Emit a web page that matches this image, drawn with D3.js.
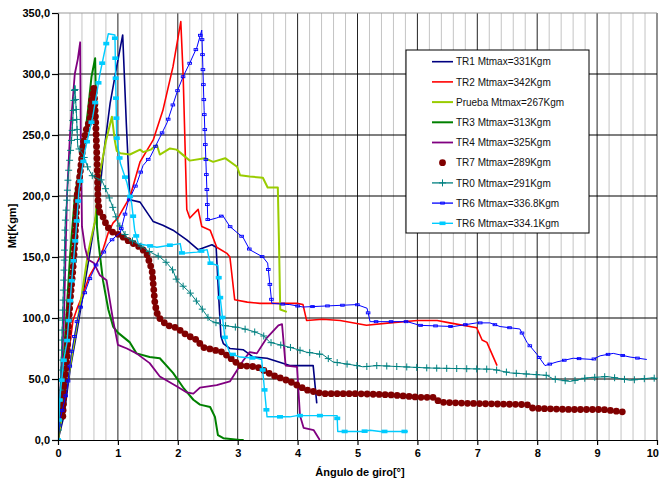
<!DOCTYPE html>
<html>
<head>
<meta charset="utf-8">
<script src="https://cdn.jsdelivr.net/npm/d3@7/dist/d3.min.js"></script>
<style>
  body { margin: 0; background: #fff; }
  text { font-family: "Liberation Sans", Arial, sans-serif; }
</style>
</head>
<body>
<svg id="chart" width="660" height="482"></svg>
<script>
// values: [angle, Mt]
const tr1 = [[0,0],[0.1,20],[0.2,57],[0.32,90],[0.42,120],[0.53,153],[0.62,180],[0.7,205],[0.75,230],[0.87,276],[0.98,306],[1.08,332],[1.14,260],[1.2,197],[1.37,195],[1.59,179],[1.75,176],[1.92,172],[2.15,164],[2.34,156],[2.57,160],[2.64,158],[2.68,120],[2.72,85],[2.76,79],[2.87,75],[3.09,74],[3.26,68],[3.49,67],[3.87,61],[4.26,61],[4.32,30]];
const tr2 = [[0,0],[0.05,20],[0.1,40],[0.15,60],[0.25,98],[0.32,108],[0.42,120],[0.53,135],[0.65,145],[0.75,156],[0.84,170],[0.92,178],[1.0,182],[1.2,199],[1.37,228],[1.59,246],[1.75,270],[1.92,306],[2.05,343],[2.09,298],[2.12,243],[2.15,189],[2.2,182],[2.34,189],[2.4,175],[2.54,172],[2.65,158],[2.82,153],[2.87,150],[2.95,115],[3.16,113],[3.37,112],[3.71,112],[3.99,112],[4.09,111],[4.15,98],[4.42,99],[4.71,98],[5.15,94],[5.54,96],[6.0,98],[6.33,98],[6.54,96],[6.99,92],[7.08,82],[7.16,80],[7.33,61]];
const prueba = [[0,0],[0.1,30],[0.2,60],[0.3,90],[0.4,120],[0.5,153],[0.62,180],[0.7,219],[0.8,245],[0.9,265],[0.95,245],[0.98,237],[1.04,235],[1.2,234],[1.37,238],[1.42,236],[1.55,238],[1.65,242],[1.7,234],[1.87,239],[1.98,238],[2.2,229],[2.45,231],[2.59,228],[2.79,231],[2.99,224],[3.04,217],[3.2,216],[3.42,215],[3.5,207],[3.67,207],[3.69,160],[3.71,107],[3.82,105]];
const tr3 = [[0,0],[0.05,30],[0.1,70],[0.15,110],[0.2,150],[0.28,199],[0.35,220],[0.42,237],[0.5,270],[0.56,298],[0.62,313],[0.64,260],[0.65,175],[0.67,164],[0.75,131],[0.84,107],[0.92,93],[1.0,88],[1.2,80],[1.31,71],[1.53,68],[1.7,67],[1.92,55],[2.09,43],[2.26,33],[2.37,29],[2.54,27],[2.62,19],[2.67,4],[2.76,1.5],[3.04,0],[3.1,0]];
const tr4 = [[0,0],[0.05,50],[0.1,100],[0.15,200],[0.2,250],[0.28,300],[0.33,312],[0.37,326],[0.38,250],[0.4,175],[0.45,158],[0.5,148],[0.6,145],[0.7,135],[0.81,131],[0.92,98],[1.0,78],[1.15,75],[1.31,71],[1.53,63],[1.7,52],[1.98,44],[2.15,39],[2.26,38],[2.37,43],[2.65,45],[2.87,48],[3.09,65],[3.2,72],[3.32,71],[3.49,84],[3.68,94],[3.74,95],[3.8,61],[3.99,60],[4.04,20],[4.1,10],[4.27,8],[4.37,0]];
const tr7 = [[0,19],[0.05,18],[0.08,19],[0.1,40],[0.15,67],[0.17,88],[0.2,113],[0.25,140],[0.28,161],[0.32,201],[0.37,219],[0.42,243],[0.48,256],[0.53,262],[0.56,278],[0.6,289],[0.63,260],[0.65,231],[0.67,194],[0.7,186],[0.75,183],[0.82,175],[0.92,170],[1.04,168],[1.15,164],[1.26,161],[1.37,158],[1.48,153],[1.57,139],[1.62,111],[1.67,101],[1.82,94],[1.98,92],[2.15,86],[2.32,82],[2.42,76],[2.75,72],[3.04,61],[3.32,60],[3.59,53],[3.87,48],[4.15,41],[4.42,38],[4.99,38],[5.54,37],[6.04,35],[6.26,35],[6.38,31],[6.88,30],[7.83,29],[7.93,26],[8.55,25],[9.1,25],[9.43,23]];
const tr0 = [[0,0],[0.03,30],[0.07,90],[0.1,140],[0.12,178],[0.15,198],[0.17,217],[0.23,248],[0.28,291],[0.31,265],[0.33,240],[0.42,234],[0.5,223],[0.58,216],[0.73,213],[0.83,202],[0.92,190],[1.0,178],[1.15,166],[1.32,161],[1.54,154],[1.7,150],[1.82,145],[1.92,139],[1.98,131],[2.2,121],[2.37,110],[2.54,98],[2.75,94],[3.04,92],[3.26,89],[3.42,86],[3.54,80],[3.87,76],[4.15,72],[4.42,70],[4.59,64],[4.99,61],[5.09,60],[5.33,61],[5.76,60],[6.21,59],[7.26,58],[7.55,55],[8.16,53],[8.27,50],[8.55,48],[8.83,51],[9.17,52],[9.55,49],[9.93,51],[10,50]];
const tr6a = [[0,0],[0.03,16],[0.1,30],[0.15,41],[0.22,70],[0.32,98],[0.42,117],[0.53,132],[0.65,145],[0.75,153],[0.84,161],[0.92,165],[1.04,170],[1.17,195],[1.32,211],[1.42,225],[1.54,232],[1.7,248],[1.82,260],[2.0,287],[2.09,298],[2.2,309],[2.32,322],[2.4,336],[2.44,270],[2.49,199],[2.5,180],[2.65,182],[2.75,184],[2.87,175],[2.99,170],[3.09,166],[3.2,156],[3.42,150],[3.5,145],[3.57,112],[3.87,111],[4.09,109],[4.99,111],[5.16,108],[5.21,97],[5.54,97],[5.83,97],[6.04,94],[6.6,93],[6.99,96],[7.21,96],[7.38,93],[7.71,91],[7.83,80],[8.0,70],[8.13,61],[8.33,64],[8.6,67],[8.93,66],[9.05,69],[9.27,71],[9.55,68],[9.83,66]];
const tr6b = [[0,0],[0.03,34],[0.1,67],[0.15,80],[0.23,131],[0.3,170],[0.35,205],[0.45,237],[0.58,265],[0.65,285],[0.7,300],[0.84,333],[0.95,332],[0.98,248],[1.04,227],[1.15,211],[1.23,194],[1.28,172],[1.34,161],[1.65,158],[2.04,161],[2.07,153],[2.32,154],[2.49,156],[2.54,145],[2.67,143],[2.7,120],[2.79,82],[2.87,71],[3.04,68],[3.32,67],[3.4,66],[3.49,19],[3.87,19],[3.99,20],[4.66,20],[4.67,7],[5.09,7],[5.21,8],[5.38,7],[5.84,7]];

const seriesNames = ["TR1  Mtmax=331Kgm", "TR2  Mtmax=342Kgm", "Prueba Mtmax=267Kgm", "TR3  Mtmax=313Kgm",
  "TR4  Mtmax=325Kgm", "TR7  Mtmax=289Kgm", "TR0  Mtmax=291Kgm", "TR6  Mtmax=336.8Kgm", "TR6  Mtmax=334.1Kgm"];
const xTicks = [0,1,2,3,4,5,6,7,8,9,10];
const yTicks = [0,50,100,150,200,250,300,350];

const series = [
  {name: seriesNames[0], data: tr1, color: "#000080", width: 1.6},
  {name: seriesNames[1], data: tr2, color: "#ff0000", width: 1.6},
  {name: seriesNames[2], data: prueba, color: "#99cc00", width: 2},
  {name: seriesNames[3], data: tr3, color: "#008000", width: 2},
  {name: seriesNames[4], data: tr4, color: "#800080", width: 1.8},
  {name: seriesNames[5], data: tr7, color: "#800000", width: 1, marker: "dot", step: 6},
  {name: seriesNames[6], data: tr0, color: "#008080", width: 1, marker: "plus", step: 10},
  {name: seriesNames[7], data: tr6a, color: "#0000ff", width: 1, marker: "dash", step: 15},
  {name: seriesNames[8], data: tr6b, color: "#00ccff", width: 1.4, marker: "square", step: 20}
];

const svg = d3.select("#chart");
const plotL = 58, plotR = 657, plotT = 13, plotB = 440;
const x = d3.scaleLinear().domain([0, 10]).range([plotL, plotR]);
const y = d3.scaleLinear().domain([0, 350]).range([plotB, plotT]);

// grid
const grid = svg.append("g");
grid.selectAll("line.minor").data(d3.range(1, 50).filter(i => i % 5)).join("line")
  .attr("x1", i => x(i / 5)).attr("x2", i => x(i / 5))
  .attr("y1", plotT).attr("y2", plotB)
  .attr("stroke", "#c4c4c4").attr("stroke-width", 1);
grid.selectAll("line.vmaj").data(xTicks.slice(1)).join("line")
  .attr("x1", d => x(d)).attr("x2", d => x(d))
  .attr("y1", plotT).attr("y2", plotB)
  .attr("stroke", "#222").attr("stroke-width", 1);
grid.selectAll("line.hmaj").data(yTicks.slice(1)).join("line")
  .attr("x1", plotL).attr("x2", plotR)
  .attr("y1", d => y(d)).attr("y2", d => y(d))
  .attr("stroke", d => d === 350 ? "#999" : "#000").attr("stroke-width", 1.2);

svg.append("clipPath").attr("id", "plotclip").append("rect")
  .attr("x", plotL).attr("y", plotT - 2).attr("width", plotR - plotL + 2).attr("height", plotB - plotT + 3);

const line = d3.line().x(d => x(d[0])).y(d => y(d[1]));
const plot = svg.append("g").attr("clip-path", "url(#plotclip)");

function drawMarker(g, kind, color, px, py) {
  if (kind === "dot") {
    g.append("circle").attr("cx", px).attr("cy", py).attr("r", 3.4).attr("fill", color);
  } else if (kind === "plus") {
    g.append("path").attr("d", `M${px-3.5},${py}H${px+3.5}M${px},${py-3.5}V${py+3.5}`)
      .attr("stroke", color).attr("stroke-width", 1);
  } else if (kind === "dash") {
    g.append("rect").attr("x", px - 1.8).attr("y", py - 1).attr("width", 3.6).attr("height", 2)
      .attr("fill", "none").attr("stroke", color).attr("stroke-width", 0.9);
  } else if (kind === "square") {
    g.append("rect").attr("x", px - 3).attr("y", py - 1.8).attr("width", 6).attr("height", 3.6)
      .attr("fill", color);
  }
}

series.forEach(s => {
  const path = plot.append("path").datum(s.data)
    .attr("d", line).attr("fill", "none")
    .attr("stroke", s.color).attr("stroke-width", s.width)
    .attr("stroke-linejoin", "round");
  if (s.marker) {
    const node = path.node(), len = node.getTotalLength();
    const mg = plot.append("g");
    for (let l = 0; l <= len; l += s.step) {
      const p = node.getPointAtLength(l);
      drawMarker(mg, s.marker, s.color, p.x, p.y);
    }
  }
});

// axes
const yAxis = svg.append("g").attr("transform", `translate(${plotL},0)`)
  .call(d3.axisLeft(y).tickValues(yTicks).tickSize(6).tickSizeOuter(0)
    .tickFormat(d => d.toFixed(1).replace(".", ",")));
const xAxis = svg.append("g").attr("transform", `translate(0,${plotB})`)
  .call(d3.axisBottom(x).tickValues(xTicks).tickSize(5).tickSizeOuter(0).tickFormat(d3.format("d")));
[yAxis, xAxis].forEach(a => {
  a.selectAll("path, line").attr("stroke", "#000").attr("stroke-width", 1.2);
  a.selectAll("text").attr("font-family", "'Liberation Sans', Arial, sans-serif")
    .attr("font-size", 11).attr("font-weight", "bold").attr("fill", "#000");
});
yAxis.selectAll("text").attr("x", -8);
xAxis.selectAll("text").attr("y", 9).filter(d => d === 10).attr("text-anchor", "end").attr("x", 1.5);

svg.append("text").attr("x", 360).attr("y", 476).attr("text-anchor", "middle")
  .attr("font-size", 11).attr("font-weight", "bold").text("Ángulo de giro[°]");
svg.append("text").attr("transform", "translate(16,226) rotate(-90)").attr("text-anchor", "middle")
  .attr("font-size", 11).attr("font-weight", "bold").text("Mt[Kgm]");

// legend
const lg = svg.append("g");
lg.append("rect").attr("x", 406).attr("y", 50).attr("width", 183).attr("height", 183)
  .attr("fill", "#fff").attr("stroke", "#000").attr("stroke-width", 1);
series.forEach((s, i) => {
  const cy = 61.7 + i * 20.2;
  if (s.marker !== "dot") {
    lg.append("line").attr("x1", 432).attr("x2", 453).attr("y1", cy).attr("y2", cy)
      .attr("stroke", s.color).attr("stroke-width", Math.max(s.width, 1.3));
  }
  if (s.marker) drawMarker(lg, s.marker, s.color, 442.5, cy);
  lg.append("text").attr("x", 456).attr("y", cy + 3.6).attr("font-size", 10)
    .attr("fill", "#111").text(s.name);
});
</script>
</body>
</html>
